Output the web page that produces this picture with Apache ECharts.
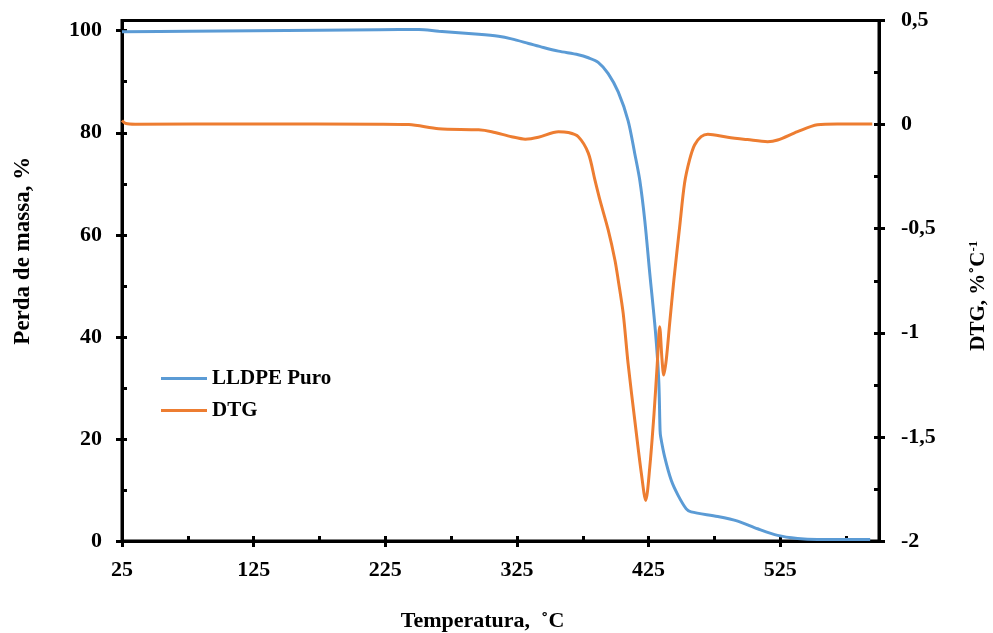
<!DOCTYPE html>
<html>
<head>
<meta charset="utf-8">
<script src="https://cdn.jsdelivr.net/npm/echarts@6/dist/echarts.min.js"></script>
<style>
html,body{margin:0;padding:0;background:#fff;}
#chart{width:993px;height:633px;}
</style>
</head>
<body>
<div id="chart"></div>
<script>
// ---- data ----
const tgTemp = [25, 75, 125, 175, 220.2, 250.5, 265.6, 295.9, 311, 320.9, 333.8, 345.1, 356.5, 371.6, 379.2, 386.7, 394.3, 401.9, 409.4, 414.5, 418.3, 422.1, 425.9, 430.1, 432.7, 433.7, 434.2, 437.2, 442.2, 447.3, 453.6, 457.3, 477.5, 492.7, 507.8, 523, 538.1, 553.2, 593.3];
const tgMass = [99.8, 99.9, 100.0, 100.1, 100.2, 100.25, 99.9, 99.3, 98.9, 98.4, 97.5, 96.7, 96.0, 95.3, 94.7, 93.8, 91.6, 88, 82.4, 75.9, 70.7, 62.8, 52.4, 41.3, 31.5, 21.7, 20.4, 16.5, 11.9, 9, 6.3, 5.7, 4.8, 3.9, 2.4, 1.1, 0.5, 0.3, 0.3];

const dtgTemp = [25, 28, 35, 125, 220.2, 242.9, 265.6, 295.9, 305.8, 320.9, 331.3, 341.3, 356.5, 364.0, 371.6, 379.2, 384.2, 388.0, 394.3, 399.4, 401.9, 405.7, 409.4, 414.5, 419.5, 422.8, 425.9, 429.1, 431.6, 433.4, 435.2, 436.5, 438.4, 441.0, 444.2, 448.6, 452.3, 456.1, 459.9, 464.9, 470.0, 485.1, 500, 515.4, 523.0, 538.1, 553.2, 568.4, 594.9];
const dtgVal = [0.02, 0.005, 0.002, 0.003, 0.002, 0.0, -0.02, -0.025, -0.034, -0.058, -0.07, -0.061, -0.034, -0.038, -0.058, -0.137, -0.266, -0.362, -0.506, -0.65, -0.746, -0.907, -1.147, -1.42, -1.676, -1.805, -1.644, -1.39, -1.147, -0.971, -1.13, -1.203, -1.13, -0.955, -0.746, -0.49, -0.282, -0.17, -0.098, -0.058, -0.046, -0.061, -0.072, -0.082, -0.074, -0.034, -0.001, 0.003, 0.003];

const xMajorTicks = [25, 125, 225, 325, 425, 525];
const xMinorTicks = [25, 75, 125, 175, 225, 275, 325, 375, 425, 475, 525, 575];
const yLeftTicks = [0, 20, 40, 60, 80, 100];
const yLeftMinor = [0, 10, 20, 30, 40, 50, 60, 70, 80, 90, 100];
const yRightMinor = [-2, -1.75, -1.5, -1.25, -1, -0.75, -0.5, -0.25, 0, 0.25, 0.5];

const seriesNames = ['LLDPE Puro', 'DTG'];

// ---- chart ----
const FONT = 'Liberation Serif';
const lbl = {color:'#000', fontFamily:FONT, fontWeight:'bold', fontSize:21};
const tickLbl = Object.assign({}, lbl, {fontSize:22});
const blackLine = {show:true, lineStyle:{color:'#000', width:3}};

const chart = echarts.init(document.getElementById('chart'), null, {renderer:'canvas'});
chart.setOption({
  animation:false,
  backgroundColor:'#fff',
  grid:{left:122, right:114, top:20.5, bottom:92, outerBoundsMode:'none', containLabel:false,
        show:true, borderColor:'#000', borderWidth:3, backgroundColor:'transparent'},
  legend:{
    orient:'vertical', left:156, top:363, icon:'rect', itemWidth:46, itemHeight:3, itemGap:11,
    textStyle:Object.assign({}, lbl, {lineHeight:21}),
    data:seriesNames
  },
  xAxis:[
    {type:'value', min:25, max:600, position:'bottom',
     name:'Temperatura,  ˚C', nameLocation:'middle', nameGap:69,
     nameTextStyle:Object.assign({}, lbl, {fontSize:22, padding:[0,36,0,0]}),
     axisLine:blackLine,
     axisTick:{show:true, customValues:xMajorTicks, length:6, inside:false, lineStyle:{color:'#000', width:3}},
     axisLabel:Object.assign({customValues:xMajorTicks, margin:18}, tickLbl),
     splitLine:{show:false}},
    {type:'value', min:25, max:600, position:'bottom',
     axisLine:{show:false},
     axisTick:{show:true, customValues:xMinorTicks, length:5, inside:true, lineStyle:{color:'#000', width:3}},
     axisLabel:{show:false}, splitLine:{show:false}}
  ],
  yAxis:[
    {type:'value', min:0, max:102, position:'left',
     name:'Perda de massa, %', nameLocation:'middle', nameGap:87, nameRotate:90,
     nameTextStyle:Object.assign({}, lbl, {fontSize:23, padding:[0,0,0,60]}),
     axisLine:blackLine,
     axisTick:{show:true, customValues:yLeftTicks, length:6, inside:false, lineStyle:{color:'#000', width:3}},
     axisLabel:Object.assign({customValues:yLeftTicks, margin:20}, tickLbl),
     splitLine:{show:false}},
    {type:'value', min:0, max:102, position:'left',
     axisLine:{show:false},
     axisTick:{show:true, customValues:yLeftMinor, length:5, inside:true, lineStyle:{color:'#000', width:3}},
     axisLabel:{show:false}, splitLine:{show:false}},
    {type:'value', min:-2, max:0.5, interval:0.5, position:'right',
     name:'DTG, %˚C{sup|-1}', nameLocation:'middle', nameGap:88, nameRotate:90,
     nameTextStyle:Object.assign({}, lbl, {padding:[0,30,0,0], rich:{sup:{color:'#000', fontFamily:FONT, fontWeight:'bold', fontSize:13, verticalAlign:'top', padding:[0,0,10,0]}}}),
     axisLine:blackLine,
     axisTick:{show:true, length:6, inside:false, lineStyle:{color:'#000', width:3}},
     axisLabel:Object.assign({margin:22, formatter:v => String(v).replace('.', ',')}, tickLbl),
     splitLine:{show:false}},
    {type:'value', min:-2, max:0.5, position:'right',
     axisLine:{show:false},
     axisTick:{show:true, customValues:yRightMinor, length:5, inside:true, lineStyle:{color:'#000', width:3}},
     axisLabel:{show:false}, splitLine:{show:false}}
  ],
  series:[
    {name:seriesNames[0], type:'line', xAxisIndex:0, yAxisIndex:0, showSymbol:false, smooth:0.3,
     lineStyle:{color:'#5B9BD5', width:3}, itemStyle:{color:'#5B9BD5'},
     data:tgTemp.map((t,i)=>[t, tgMass[i]])},
    {name:seriesNames[1], type:'line', xAxisIndex:0, yAxisIndex:2, showSymbol:false, smooth:0.3,
     lineStyle:{color:'#ED7D31', width:3}, itemStyle:{color:'#ED7D31'},
     data:dtgTemp.map((t,i)=>[t, dtgVal[i]])}
  ]
});
</script>
</body>
</html>
